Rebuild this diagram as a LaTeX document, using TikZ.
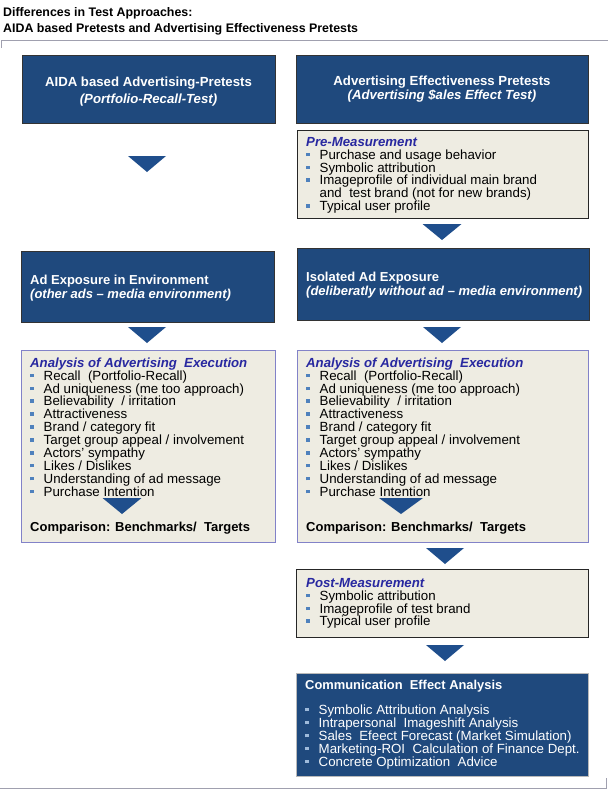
\documentclass[tikz,border=0pt]{standalone}
\usepackage{fontspec}
\setmainfont{Liberation Sans}
\usetikzlibrary{positioning}

\definecolor{boxblue}{RGB}{31,73,125}
\definecolor{arrowblue}{RGB}{31,78,140}
\definecolor{paper}{RGB}{238,236,226}
\definecolor{headblue}{RGB}{40,40,160}
\definecolor{bulletblue}{RGB}{79,129,189}
\definecolor{framepurple}{RGB}{130,130,200}
\definecolor{linegray}{RGB}{160,160,175}

\newcommand\bul{\makebox[13.5pt][l]{\textcolor{bulletblue}{\rule[3pt]{3.5pt}{3.5pt}}}}
\newcommand\lbul{\makebox[13.5pt][l]{\textcolor{bulletblue!55!white}{\rule[3pt]{3.5pt}{3.5pt}}}}
\newcommand\hd[1]{\textcolor{headblue}{\fontsize{13.2}{12.9}\selectfont\bfseries\itshape #1}}

\tikzset{bluebox/.style = {draw=gray!40!black, fill=boxblue, text=white, inner sep=0pt},
         bluetxt/.style = {align=left, inner sep=0pt, anchor=west, text=white,
                           font=\fontsize{13}{14}\selectfont\bfseries},
         paperbox/.style = {draw=#1, fill=paper, inner sep=0pt},
         paperbox/.default=gray!30!black,
         listtxt/.style = {align=left, inner sep=0pt, anchor=north west,
                           font=\fontsize{13.3}{12.9}\selectfont},
         arrowtri/.style = {fill=arrowblue}
        }

\begin{document}
\begin{tikzpicture}[x=1pt,y=-1pt]
\useasboundingbox (0,0) rectangle (608,790);
% title and rules
\node[align=left, inner sep=0pt, anchor=north west, font=\fontsize{12.4}{16}\selectfont\bfseries] (title) at (3,7)
  {Differences in Test Approaches:\\AIDA based Pretests and Advertising Effectiveness Pretests};
\draw[linegray, line width=1pt] (1,48) -- (1,40) -- (608,40);
\draw[linegray, line width=1pt] (0,788.5) -- (606,788.5) -- (606,778);

% top boxes
\node[bluebox, minimum width=253, minimum height=68] (aida) at (148.5,89) {};
\node[bluetxt, anchor=center, align=center, font=\fontsize{13.2}{17}\selectfont\bfseries] (aidatxt) at (148.5,91.5)
  {AIDA based Advertising-Pretests\\\textit{(Portfolio-Recall-Test)}};
\node[bluebox, minimum width=292, minimum height=68] (eff) at (442,89) {};
\node[bluetxt, anchor=center, align=center, font=\fontsize{13.2}{14}\selectfont\bfseries] (efftxt) at (442,89.5)
  {Advertising Effectiveness Pretests\\\textit{(Advertising \$ales Effect Test)}};

% pre measurement
\node[paperbox, minimum width=291, minimum height=88] (pre) at (442.5,174) {};
\node[listtxt] (pretxt) at (306,137)
  {\hd{Pre-Measurement}\\
   \bul Purchase and usage behavior\\
   \bul Symbolic attribution\\
   \bul Imageprofile of individual main brand\\
   \hspace*{13.5pt}and~ test brand (not for new brands)\\
   \bul Typical user profile};

% exposure boxes
\node[bluebox, minimum width=253, minimum height=71] (envexp) at (147.5,286.5) {};
\node[bluetxt] (envtxt) at (30,288)
  {Ad Exposure in Environment\\\textit{(other ads -- media environment)}};
\node[bluebox, minimum width=292, minimum height=72] (isoexp) at (443,284) {};
\node[bluetxt] (isotxt) at (306,285)
  {Isolated Ad Exposure\\\textit{(deliberatly without ad -- media environment)}};

% analysis boxes
\node[paperbox=framepurple, minimum width=254, minimum height=192] (anaL) at (148,446) {};
\node[paperbox=framepurple, minimum width=291, minimum height=192] (anaR) at (442.5,446) {};
\foreach \x/\n in {30/L, 306/R}{
  \node[listtxt] (anatxt\n) at (\x,357.5)
    {\hd{Analysis of Advertising~ Execution}\\
     \bul Recall~ (Portfolio-Recall)\\
     \bul Ad uniqueness (me too approach)\\
     \bul Believability~ / irritation\\
     \bul Attractiveness\\
     \bul Brand / category fit\\
     \bul Target group appeal / involvement\\
     \bul Actors' sympathy\\
     \bul Likes / Dislikes\\
     \bul Understanding of ad message\\
     \bul Purchase Intention};
  \node[anchor=west, inner sep=0pt, font=\fontsize{13}{13}\selectfont\bfseries] (cmp\n) at (\x,528.5)
    {Comparison: Benchmarks/~ Targets};
}

% post measurement
\node[paperbox, minimum width=292, minimum height=68] (post) at (442,603) {};
\node[listtxt] (posttxt) at (306,578)
  {\hd{Post-Measurement}\\
   \bul Symbolic attribution\\
   \bul Imageprofile of test brand\\
   \bul Typical user profile};

% communication effect
\node[bluebox, draw=gray!55, minimum width=292, minimum height=103] (comm) at (442,724.5) {};
\node[listtxt, text=white] (commtxt) at (305,680)
  {{\fontsize{12.9}{13}\selectfont\bfseries Communication~ Effect Analysis}\\[12pt]
   \lbul Symbolic Attribution Analysis\\
   \lbul Intrapersonal~ Imageshift Analysis\\
   \lbul Sales~ Efeect Forecast (Market Simulation)\\
   \lbul Marketing-ROI~ Calculation of Finance Dept.\\
   \lbul Concrete Optimization~ Advice};

% arrows
\foreach \x/\y/\w in {147/156/19, 442/224/19.5, 147/327/19, 442/327/19,
                      122/498/19.5, 401/498/22, 445/548/19, 445/645/19}
  \fill[arrowtri] (\x-\w,\y) -- (\x+\w,\y) -- (\x,\y+16) -- cycle;
\end{tikzpicture}
\end{document}
